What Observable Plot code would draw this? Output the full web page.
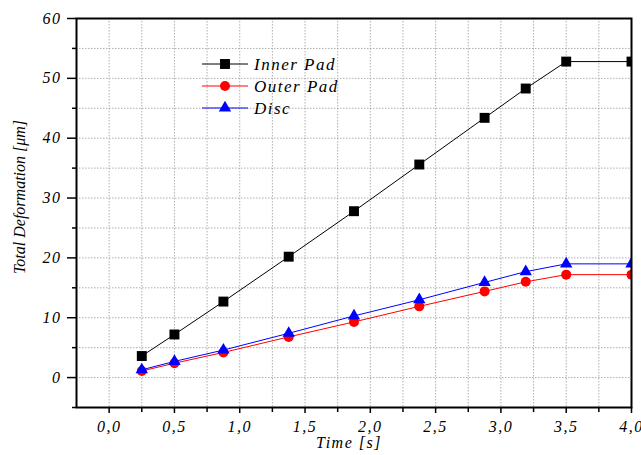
<!DOCTYPE html>
<html><head><meta charset="utf-8">
<script src="https://cdn.jsdelivr.net/npm/d3@7"></script>
<script src="https://cdn.jsdelivr.net/npm/@observablehq/plot@0.6"></script>
<style>
body{margin:0;background:#fff}
</style>
</head><body><div id="chart"></div>
<script>
const time = [0.25, 0.5, 0.875, 1.375, 1.875, 2.375, 2.875, 3.19, 3.5, 4.0];
const innerPad = [3.6, 7.2, 12.7, 20.2, 27.8, 35.6, 43.4, 48.3, 52.8, 52.8];
const outerPad = [1.1, 2.4, 4.2, 6.8, 9.3, 11.9, 14.4, 16.0, 17.2, 17.2];
const disc = [1.3, 2.7, 4.6, 7.4, 10.3, 13.0, 15.9, 17.7, 19.0, 19.0];
const seriesNames = ["Inner Pad", "Outer Pad", "Disc"];
const seriesColors = ["#000000", "#ff0000", "#0000ff"];
const seriesSymbols = ["square", "circle", "triangle"];
const xTicks = [0, 0.5, 1, 1.5, 2, 2.5, 3, 3.5, 4];
const xMinorTicks = [-0.25, 0.25, 0.75, 1.25, 1.75, 2.25, 2.75, 3.25, 3.75];
const yTicks = [0, 10, 20, 30, 40, 50, 60];
const yMinorTicks = [-5, 5, 15, 25, 35, 45, 55];
const xLabel = "Time [s]";
const yLabel = "Total Deformation [μm]";

const values = [innerPad, outerPad, disc];
const rows = [];
seriesNames.forEach((s, i) => time.forEach((t, j) => rows.push({series: s, time: t, value: values[i][j]})));

const FONT = "'Liberation Serif', 'Times New Roman', serif";
const fmt = d => d3.format(".1f")(d).replace(".", ",");
const radius = {square: 5.6, circle: 5, triangle: 4.6};
const gridStyle = {stroke: "#9a9a9a", strokeOpacity: 1, strokeWidth: 0.8, strokeDasharray: "1.5,1.5"};
const xGrid = [...xTicks, ...xMinorTicks].filter(v => v > -0.25 && v < 4);
const yGrid = [...yTicks, ...yMinorTicks].filter(v => v > -5 && v < 60);
const txt = {fontSize: 16};

const marks = [
  Plot.gridX(xGrid, gridStyle),
  Plot.gridY(yGrid, gridStyle),
];
seriesNames.forEach((s, i) => {
  const d = rows.filter(r => r.series === s);
  marks.push(Plot.line(d, {x: "time", y: "value", stroke: seriesColors[i], strokeWidth: 1}));
});
seriesNames.forEach((s, i) => {
  const d = rows.filter(r => r.series === s);
  marks.push(Plot.dot(d, {x: "time", y: "value", symbol: seriesSymbols[i], fill: seriesColors[i], stroke: "none", r: radius[seriesSymbols[i]], clip: true}));
});
marks.push(
  Plot.frame({stroke: "#000", strokeWidth: 2}),
  Plot.axisX(xTicks, {tickSize: 6, tickPadding: 7, tickFormat: fmt, strokeWidth: 1.5, label: null, ...txt}),
  Plot.axisX(xMinorTicks.filter(v => v > -0.25), {tickSize: 5, tickFormat: () => "", strokeWidth: 1.5, label: null}),
  Plot.axisY(yTicks, {tickSize: 9, tickPadding: 6, strokeWidth: 1.5, label: null, ...txt}),
  Plot.axisY(yMinorTicks, {tickSize: 4, tickFormat: () => "", strokeWidth: 1.5, label: null}),
  Plot.text([xLabel], {frameAnchor: "bottom", dy: 40, dx: -5, textAnchor: "middle", ...txt}),
  Plot.text([yLabel], {frameAnchor: "left", dx: -57, dy: -16, rotate: -90, textAnchor: "middle", ...txt})
);

const chart = Plot.plot({
  width: 641, height: 455,
  marginLeft: 76, marginRight: 10, marginTop: 18, marginBottom: 48,
  style: {background: "#fff", color: "#000"},
  x: {domain: [-0.25, 4]},
  y: {domain: [-5, 60]},
  marks
});

// Legend inside the plot area
const svg = d3.select(chart);
const lg = svg.append("g").attr("transform", "translate(202,64)");
seriesNames.forEach((s, i) => {
  const g = lg.append("g").attr("transform", `translate(0,${i * 22})`);
  g.append("line").attr("x1", 0).attr("x2", 46).attr("y1", 0).attr("y2", 0)
    .attr("stroke", seriesColors[i]).attr("stroke-width", 1);
  const sym = {square: d3.symbolSquare, circle: d3.symbolCircle, triangle: d3.symbolTriangle}[seriesSymbols[i]];
  const r = radius[seriesSymbols[i]];
  g.append("path").attr("transform", "translate(23,0)")
    .attr("d", d3.symbol(sym, Math.PI * r * r)()).attr("fill", seriesColors[i]);
  g.append("text").attr("class", "legend-text").attr("x", 52).attr("y", 0).attr("dy", "0.35em").attr("text-anchor", "start")
    .attr("font-size", 17).attr("fill", "#000").text(s);
});

// Serif italic on every text
svg.attr("font-family", null);
svg.selectAll("g").attr("font-family", null);
svg.selectAll("text").each(function() {
  this.removeAttribute("font-family");
  this.style.setProperty("font-family", FONT, "important");
  this.style.setProperty("font-style", "italic", "important");
  const isY = this.textContent === yLabel;
  this.style.setProperty("letter-spacing", isY ? "0px" : "1.5px");
});

document.getElementById("chart").append(chart);
</script>
</body></html>
